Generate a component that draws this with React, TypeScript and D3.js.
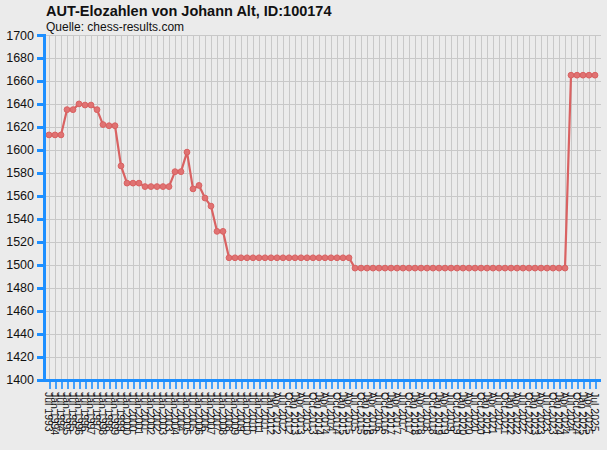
import React from "react";
import * as d3 from "d3";

const TITLE = "AUT-Elozahlen von Johann Alt, ID:100174";
const SUBTITLE = "Quelle: chess-results.com";

const periods: string[] = [
  "Jul 1993", "Jan 1994", "Jul 1994", "Jan 1995", "Jul 1995", "Jan 1996", "Jul 1996", "Jan 1997",
  "Jul 1997", "Jan 1998", "Jul 1998", "Jan 1999", "Jul 1999", "Jan 2000", "Jul 2000", "Jan 2001",
  "Jul 2001", "Jan 2002", "Jul 2002", "Jan 2003", "Jul 2003", "Jan 2004", "Jul 2004", "Jan 2005",
  "Jul 2005", "Jan 2006", "Jul 2006", "Jan 2007", "Jul 2007", "Jan 2008", "Jul 2008", "Jan 2009",
  "Jul 2009", "Jan 2010", "Jul 2010", "Jan 2011", "Jul 2011", "Jan 2012",
  "Apr 2012", "Jul 2012", "Oct 2012",
  "Jan 2013", "Apr 2013", "Jul 2013", "Oct 2013",
  "Jan 2014", "Apr 2014", "Jul 2014", "Oct 2014",
  "Jan 2015", "Apr 2015", "Jul 2015", "Oct 2015",
  "Jan 2016", "Apr 2016", "Jul 2016", "Oct 2016",
  "Jan 2017", "Apr 2017", "Jul 2017", "Oct 2017",
  "Jan 2018", "Apr 2018", "Jul 2018", "Oct 2018",
  "Jan 2019", "Apr 2019", "Jul 2019", "Oct 2019",
  "Jan 2020", "Apr 2020", "Jul 2020", "Oct 2020",
  "Jan 2021", "Apr 2021", "Jul 2021", "Oct 2021",
  "Jan 2022", "Apr 2022", "Jul 2022", "Oct 2022",
  "Jan 2023", "Apr 2023", "Jul 2023", "Oct 2023",
  "Jan 2024", "Apr 2024", "Jul 2024", "Oct 2024",
  "Jan 2025", "Apr 2025", "Jul 2025",
];

const elo: number[] = [
  1613, 1613, 1613, 1635, 1635, 1640, 1639, 1639, 1635, 1622,
  1621, 1621, 1586, 1571, 1571, 1571, 1568, 1568, 1568, 1568,
  1568, 1581, 1581, 1598, 1566, 1569, 1558, 1551, 1529, 1529,
  1506, 1506, 1506, 1506, 1506, 1506, 1506, 1506, 1506, 1506,
  1506, 1506, 1506, 1506, 1506, 1506, 1506, 1506, 1506, 1506,
  1506, 1497, 1497, 1497, 1497, 1497, 1497, 1497, 1497, 1497,
  1497, 1497, 1497, 1497, 1497, 1497, 1497, 1497, 1497, 1497,
  1497, 1497, 1497, 1497, 1497, 1497, 1497, 1497, 1497, 1497,
  1497, 1497, 1497, 1497, 1497, 1497, 1497, 1665, 1665, 1665,
  1665, 1665,
];

const yTicks: number[] = [1400, 1420, 1440, 1460, 1480, 1500, 1520, 1540, 1560, 1580, 1600, 1620, 1640, 1660, 1680, 1700];

const W = 607;
const H = 450;
const axisX = 44;
const axisY = 380;
const plotRight = 601;
const BLUE = "#1e8fff";
const RED = "#d96262";

export default function App() {
  const x = d3.scalePoint<string>().domain(periods).range([49, 595]);
  const y = d3.scaleLinear().domain([1400, 1700]).range([379.5, 35]);
  const line = d3
    .line<number>()
    .x((_, i) => x(periods[i]) as number)
    .y((d) => y(d));

  return (
    <svg
      width={W}
      height={H}
      style={{ position: "absolute", left: 0, top: 0, background: "#ebebeb" }}
      fontFamily="'Liberation Sans', Arial, sans-serif"
    >
      <rect x={0} y={0} width={W} height={H} fill="#ebebeb" />
      <text x={46} y={16} fontSize={14.5} fontWeight="bold" fill="#111">{TITLE}</text>
      <text x={46} y={31} fontSize={12} fill="#111">{SUBTITLE}</text>

      {/* grid */}
      <g shapeRendering="crispEdges">
        {yTicks.map((t) => (
          <line key={"h" + t} x1={axisX} x2={plotRight} y1={Math.round(y(t)) + 0.5} y2={Math.round(y(t)) + 0.5} stroke="#c8c8c8" strokeWidth={1.5} />
        ))}
        {periods.map((p) => (
          <line key={"v" + p} x1={(x(p) as number) + 0.5} x2={(x(p) as number) + 0.5} y1={35} y2={axisY} stroke="#c8c8c8" strokeWidth={1.5} />
        ))}
      </g>

      {/* data */}
      <path d={line(elo) || ""} fill="none" stroke={RED} strokeWidth={2.2} strokeLinejoin="round" />
      {elo.map((v, i) => (
        <circle key={"c" + i} cx={x(periods[i]) as number} cy={y(v)} r={2.9} fill="#e07272" stroke={RED} strokeWidth={1} />
      ))}

      {/* axes */}
      <g shapeRendering="crispEdges">
        <line x1={axisX} x2={axisX} y1={34} y2={axisY + 2} stroke={BLUE} strokeWidth={3} />
        {yTicks.map((t) => (
          <line key={"yt" + t} x1={37} x2={axisX} y1={Math.round(y(t)) + 0.5} y2={Math.round(y(t)) + 0.5} stroke={BLUE} strokeWidth={3} />
        ))}
        <line x1={axisX - 2} x2={plotRight} y1={axisY + 0.5} y2={axisY + 0.5} stroke={BLUE} strokeWidth={3} />
        {periods.map((p) => (
          <line key={"xt" + p} x1={(x(p) as number) + 0.5} x2={(x(p) as number) + 0.5} y1={axisY} y2={axisY + 9} stroke={BLUE} strokeWidth={2} opacity={0.8} />
        ))}
      </g>
      {yTicks.map((t) => (
        <text key={"yl" + t} x={34} y={y(t)} dy="0.36em" textAnchor="end" fontSize={12.5} fill="#111">{t}</text>
      ))}
      {periods.map((p) => (
        <text
          key={"xl" + p}
          transform={`translate(${(x(p) as number) - 4},392) rotate(90)`}
          fontSize={10.5}
          fill="#111"
          textAnchor="start"
        >
          {p}
        </text>
      ))}
    </svg>
  );
}
